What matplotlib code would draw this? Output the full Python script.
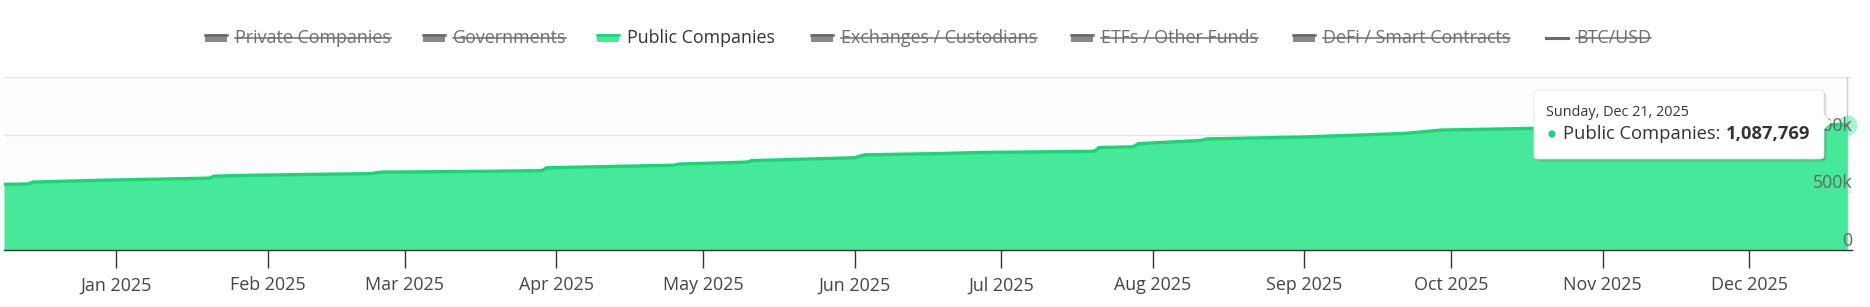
import matplotlib
matplotlib.use("Agg")
import matplotlib.pyplot as plt
import matplotlib.dates as mdates
import matplotlib.transforms as mtransforms
from matplotlib.patches import FancyBboxPatch, Rectangle, Polygon, Circle
from matplotlib.lines import Line2D
import pandas as pd

# ── canvas (pixels) ───────────────────────────────────────────────────────────
W, H, DPI = 1870, 307, 100

# ── data: BTC held by public companies ────────────────────────────────────────
dates = pd.to_datetime([
    "2024-12-09", "2024-12-14", "2024-12-15", "2024-12-29", "2025-01-20",
    "2025-01-21", "2025-01-27", "2025-02-09", "2025-02-22", "2025-02-24",
    "2025-03-14", "2025-03-29", "2025-03-30", "2025-04-25", "2025-04-26",
    "2025-05-10", "2025-05-11", "2025-06-01", "2025-06-03", "2025-06-18",
    "2025-06-26", "2025-07-20", "2025-07-21", "2025-07-28", "2025-07-29",
    "2025-08-11", "2025-08-12", "2025-09-01", "2025-09-21", "2025-09-24",
    "2025-09-29", "2025-10-18", "2025-11-10", "2025-12-05", "2025-12-21",
])
holdings = [
    569000, 573000, 589000, 605000, 623000,
    640000, 647000, 655000, 662000, 675000,
    681000, 688000, 713000, 735000, 745000,
    762000, 775000, 800000, 825000, 836000,
    845000, 856000, 888000, 895000, 922000,
    950000, 963000, 980000, 1010000, 1020000,
    1040000, 1055000, 1066000, 1080000, 1087769,
]

legend_labels = ["Private Companies", "Governments", "Public Companies",
                 "Exchanges / Custodians", "ETFs / Other Funds",
                 "DeFi / Smart Contracts", "BTC/USD"]
legend_shown = [False, False, True, False, False, False, False]
legend_kind = ["area", "area", "area", "area", "area", "area", "line"]

y_ticks = [0, 500000, 1000000]
y_tick_labels = ["0", "500k", "1000k"]
grid_levels = [500000, 1000000, 1500000]

tooltip_header = "Sunday, Dec 21, 2025"
tooltip_series = "Public Companies:"
tooltip_value = "1,087,769"

# ── colours ───────────────────────────────────────────────────────────────────
GREEN_FILL = "#46e89a"
GREEN_LINE = "#1ad577"
HIDDEN_TXT = "#6e6e6e"
HIDDEN_SYM = "#8a8a8a"
HIDDEN_TOP = "#6a6a6a"
TEXT = "#333333"

plt.rcParams["font.family"] = ["Open Sans", "DejaVu Sans"]

PIX = mtransforms.IdentityTransform()


def py(y_from_top):
    """Convert a y measured from the top of the image into display coords."""
    return H - y_from_top


fig = plt.figure(figsize=(W / DPI, H / DPI), dpi=DPI)
fig.patch.set_facecolor("white")

# plot area: x 4..1852, y 77..250 (from top)
ax = fig.add_axes([4 / W, (H - 250) / H, (1852 - 4) / W, (250 - 77) / H])
ax.set_facecolor("#fdfdfd")

ax.axvline(dates[-1], color="#cccccc", lw=1, zorder=1)
ax.fill_between(dates, holdings, 0, color=GREEN_FILL, lw=0, zorder=2)
ax.plot(dates, holdings, color=GREEN_LINE, lw=2.4, zorder=2.1)
ax.plot(dates[-1], holdings[-1], "o", ms=14.5, color=GREEN_FILL, alpha=0.45,
        mec="none", clip_on=False, zorder=2.2)

ax.set_xlim(pd.Timestamp("2024-12-09"), pd.Timestamp("2025-12-22"))
ax.set_ylim(0, 1500000)

for lvl in grid_levels:
    ax.axhline(lvl, color="#e6e6e6", lw=1, zorder=0.5)
ax.set_yticks([])

for side in ("top", "left", "right"):
    ax.spines[side].set_visible(False)
ax.spines["bottom"].set_color("#333333")
ax.spines["bottom"].set_linewidth(1)

ax.xaxis.set_major_locator(mdates.MonthLocator())
ax.xaxis.set_major_formatter(mdates.DateFormatter("%b %Y"))
ax.tick_params(axis="x", length=13, width=1, color="#333333", pad=6,
               labelsize=12.9, labelcolor="#444444")

ylab_tr = mtransforms.offset_copy(ax.get_yaxis_transform(), fig=fig,
                                  x=0, y=9, units="dots")
for v, lab in zip(y_ticks, y_tick_labels):
    ax.text(1.0, v, lab, transform=ylab_tr, ha="right", va="center",
            fontsize=12.8, color="#666666", zorder=5)

# ── legend ────────────────────────────────────────────────────────────────────
legend_x = [205, 423, 597, 811, 1071, 1293, 1546]
renderer = fig.canvas.get_renderer()
fs_leg = 12.9
base_leg = py(43)
for x0, lab, shown, kind in zip(legend_x, legend_labels, legend_shown, legend_kind):
    if kind == "area":
        fill = GREEN_FILL if shown else HIDDEN_SYM
        top = GREEN_LINE if shown else HIDDEN_TOP
        fig.patches.append(Rectangle((x0, py(42)), 22, 8, transform=PIX,
                                     facecolor=fill, edgecolor="none"))
        fig.lines.append(Line2D([x0, x0 + 22], [py(35), py(35)], transform=PIX,
                                color=top, lw=1.8))
    else:
        fig.lines.append(Line2D([x0, x0 + 22], [py(38), py(38)], transform=PIX,
                                color=HIDDEN_TOP, lw=2.2))
    t = fig.text(x0 + 30, base_leg, lab, transform=PIX, ha="left", va="baseline",
                 fontsize=fs_leg, color=TEXT if shown else HIDDEN_TXT)
    if not shown:
        bb = t.get_window_extent(renderer)
        ys = base_leg + 0.3 * fs_leg * DPI / 72
        fig.lines.append(Line2D([bb.x0, bb.x1], [ys, ys], transform=PIX,
                                color=HIDDEN_TXT, lw=1.1))

# ── tooltip ───────────────────────────────────────────────────────────────────
tx0, tx1, ty0, ty1 = 1534, 1824, 90, 159
for k, a in ((3, 0.05), (2, 0.07), (1, 0.09)):
    fig.patches.append(FancyBboxPatch(
        (tx0 + k, py(ty1) - k), tx1 - tx0, ty1 - ty0, transform=PIX,
        boxstyle="round,pad=0,rounding_size=4", facecolor="black", alpha=a,
        edgecolor="none", zorder=10))
fig.patches.append(FancyBboxPatch(
    (tx0, py(ty1)), tx1 - tx0, ty1 - ty0, transform=PIX,
    boxstyle="round,pad=0,rounding_size=4", facecolor="white",
    edgecolor="#e8e8e8", lw=0.6, zorder=11))
fig.patches.append(Polygon([(tx1 - 1, py(114)), (tx1 + 8, py(122)), (tx1 - 1, py(130))],
                           closed=True, transform=PIX, facecolor="white",
                           edgecolor="none", zorder=12))

fig.text(1546, py(112), tooltip_header, transform=PIX, ha="left", va="center",
         fontsize=10.4, color=TEXT, zorder=13)
fig.patches.append(Circle((1552, py(134)), 3.6, transform=PIX,
                          facecolor=GREEN_LINE, edgecolor="none", zorder=13))
s = fig.text(1563, py(139), tooltip_series, transform=PIX, ha="left",
             va="baseline", fontsize=13.2, color=TEXT, zorder=13)
sb = s.get_window_extent(renderer)
fig.text(sb.x1 + 5, py(139), tooltip_value, transform=PIX, ha="left",
         va="baseline", fontsize=13.2, fontweight="bold", color=TEXT, zorder=13)

fig.savefig("out.png", dpi=DPI)
